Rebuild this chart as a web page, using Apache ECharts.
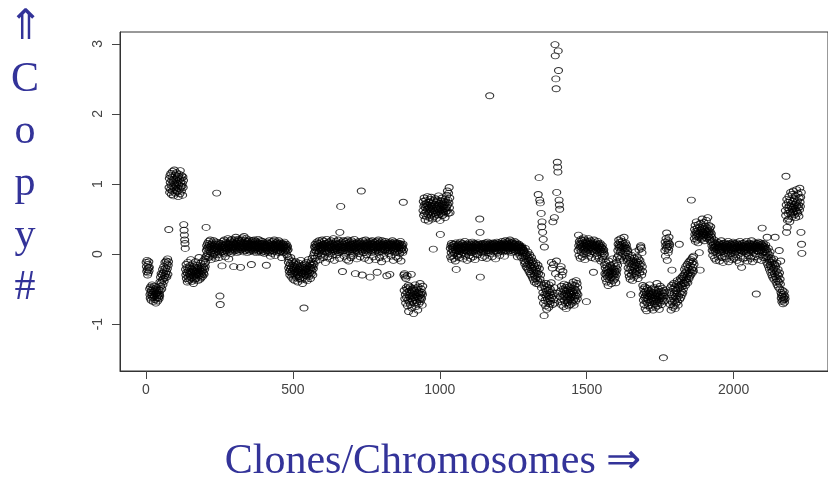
<!DOCTYPE html>
<html>
<head>
<meta charset="utf-8">
<script src="https://cdn.jsdelivr.net/npm/echarts@6/dist/echarts.min.js"></script>
<style>
  html, body { margin: 0; padding: 0; background: #ffffff; }
  #chart { width: 828px; height: 483px; }
</style>
</head>
<body>
<div id="chart"></div>
<script>
// Log copy-number ratio per clone, in clone order (clone 1 .. 2232),
// split into runs of similar level along the genome.
const seg01 = [-.12,-.18,-.25,-.09,-.22,-.3,-.15,-.27,-.2,-.11,-.24,-.19];
const seg02 = [-.5,-.58,-.63,-.47,-.55,-.66,-.52,-.6,-.44,-.57,
  -.62,-.49,-.68,-.54,-.59,-.46,-.61,-.53,-.65,-.5,
  -.57,-.7,-.48,-.56,-.63,-.52,-.6,-.67,-.55,-.58,
  -.62,-.51,-.64,-.57,-.6];
const seg03 = [-.4,-.52,-.33,-.46,-.28,-.41,-.5,-.3,-.37,-.22,
  -.44,-.27,-.35,-.18,-.39,-.24,-.31,-.12,-.34,-.2,
  -.28,-.1,-.25,-.33,-.14,-.21,-.07,-.29,-.16,-.11,.35];
const seg04 = [.95,1.08,.88,1.12,1.02,.92,1.15,.98,.85,1.05,
  1.1,.9,1.18,.96,1.03,.83,1.07,.94,1.2,1.0,
  .87,1.13,.97,1.06,.91,1.16,1.01,.89,1.09,.94,
  1.04,.82,1.11,.99,1.14,.93,1.06,.86,1.19,1.02,
  .96,1.08,.9,1.12,.97,1.01,.84,1.1,.95,1.05];
const seg05 = [.42,.34,.27,.2,.15,.08];
const seg06 = [-.22,-.3,-.15,-.35,-.26,-.19,-.4,-.28,-.12,-.33,
  -.24,-.38,-.2,-.29,-.17,-.36,-.25,-.31,-.08,-.27,
  -.34,-.21,-.39,-.26,-.14,-.3,-.23,-.42,-.18,-.32,
  -.25,-.37,-.2,-.28,-.11,-.35,-.24,-.3,-.16,-.27,
  -.33,-.22,-.38,-.19,-.29,-.26,-.05,-.31,-.21,-.36,
  -.24,-.28,-.13,-.34,-.2,-.3,-.25,-.17,-.32,-.23,
  -.1,-.27,-.19,-.29,-.14,-.22,-.07,-.18,-.12,-.04];
const seg07 = [.38,.05,.12,-.02,.08,.15,.01,.1,-.05,.18,
  .06,.13,-.04,.09,.2,.03,.11,-.08,.07,.14,
  .02,.16,.08,-.03,.12,.05,.19,.0,.1,.07,
  .13,-.06,.09,.04,.17,.11,.87,.06,.14,-.01,
  .1,.03,.16,.08,-.05,.12,.05,-.6,-.72,.09,
  .15,.02,.11,.07,-.17,.13,.04,.18,.09,.01,
  .12,.06,.2,.03,.1,-.04,.14,.08,.17,.05,
  .09,.15,.02,.11,.22,.07,.13,-.07,.1,.16,
  .04,.12,.19,.08,.14,.01,.1,.21,.06,.13,
  .09,.17,.03,.11,-.18,.15,.07,.2,.12,.05,
  .14,.24,.08,.16,.1,.02,.18,.12,.06,.21,
  .11,.15,.04,.19,.09,.13,.07,-.19,.16,.1,
  .2,.06,.14,.23,.09,.12,.17,.03,.11,.25,
  .08,.15,.1,.19,.05,.13,.22,.07,.16,.11,
  .02,.14,.18,.09,.12,.06,.2,.1,.15,.04,
  .13,.08,.17,.11,-.15,.07,.14,.19,.05,.12,
  .09,.16,.03,.12,.2,.08,.14,.06,.18,.1,
  .13,.02,.11,.17,.07,.15,.09,.21,.04,.12,
  .08,.16,.1,.05,.14,.19,.07,.11,.02,.15,
  .1,.06,.18,.12,.04,.13,.09,.16,.01,.11,
  .07,.14,.03,.12,.08,-.16,.1,.17,.05,.13,
  .09,.02,.15,.06,.11,.19,.04,.12,.08,-.03,
  .13,.07,.16,.1,.01,.14,.05,.18,.09,.12,
  .04,.11,.2,.07,.13,-.02,.1,.16,.06,.14,
  .08,.17,.03,.12,.09,.15,.05,.19,.1,.02,
  .13,.07,.11,.16,.04,.1,.14,-.05,.08,.12,
  .06,.15,.09,.02,.13,.1,.17,.05,.11,.08,
  .03,.12,.07,.14,-.01,.09,.05,.11,-.04,.06];
const seg08 = [-.12,-.2,-.08,-.25,-.17,-.3,-.14,-.22,-.05,-.27,
  -.19,-.33,-.1,-.24,-.29,-.16,-.36,-.21,-.13,-.28,
  -.23,-.18,-.38,-.26,-.11,-.31,-.2,-.34,-.15,-.25,
  -.29,-.17,-.4,-.22,-.27,-.13,-.32,-.24,-.19,-.35,
  -.21,-.3,-.09,-.26,-.37,-.18,-.28,-.23,-.42,-.16,
  -.27,-.2,-.33,-.77,-.24,-.14,-.3,-.19,-.36,-.22,
  -.26,-.12,-.31,-.21,-.38,-.17,-.25,-.29,-.08,-.23,
  -.32,-.18,-.27,-.14,-.22,-.35,-.2,-.11,-.28,-.16,
  -.24,-.06,-.19,-.3,-.13,-.21,-.02,-.15];
const seg09 = [.02,.1,-.06,.14,.05,.09,-.1,.12,.03,.17,
  .07,-.03,.11,.15,.01,.08,.19,.04,.12,-.08,
  .1,.06,.16,-.02,.09,.13,.05,.2,.0,.11,
  .07,.14,-.05,.1,.18,.03,.12,.08,-.12,.15,
  .05,.11,.21,.02,.09,.16,-.04,.13,.07,.1,
  .17,.04,.12,-.07,.08,.14,.01,.19,.06,.11,
  .09,-.02,.15,.1,.04,.22,.07,.13,-.09,.12,
  .06,.16,.03,.1,.18,.08,-.01,.14,.05,.11,
  .13,.07,.2,.02,.1,.15,-.06,.31,.09,.04,
  .68,.12,.06,.17,.1,.03,-.25,.14,.08,.19,
  .05,.11,-.03,.16,.09,.13,.02,.18,.07,.12,
  -.08,.1,.15,.04,.2,.08,.13,-.1,.11,.06,
  .17,.03,.12,.09,-.05,.14,.07,.19,.1,.01,
  .13,.06,.16,-.02,.11,.08,.21,.04,.12,.15,
  -.28,.09,.05,.14,.1,-.07,.17,.03,.12,.08,
  .15,.01,.11,.18,.06,.13,-.04,.1,.16,.07,
  .9,.12,.04,-.3,.14,.09,.19,.02,.11,.07,
  .16,-.06,.1,.13,.05,.2,.08,.12,-.01,.15,
  .06,.11,.17,.03,.09,.14,-.09,.12,.07,.18,
  -.33,.1,.05,.15,.08,.13,.02,.19,.11,.06,
  .14,-.04,.1,.17,.07,.12,.03,.16,.09,-.08,
  .12,.05,.18,.1,-.26,.14,.06,.11,.2,.02,
  .09,.15,-.05,.12,.07,.17,.04,.1,.13,-.11,
  .08,.19,.03,.14,.1,.06,.16,-.02,.11,.13,
  .05,.12,.18,.07,-.07,.15,.09,-.31,.13,.04,
  .1,.16,.06,.12,.01,.14,.08,-.29,.17,.05,
  .11,-.03,.15,.09,.13,.04,.19,.07,.12,-.09,
  .14,.06,.1,.17,.02,.12,.08,.15,-.04,.11,
  .07,.13,.03,.16,.1,-.06,.14,.05,.12,.09,
  .15,.01,.11,.18,.06,-.1,.13,.08,.04,.12,
  .09,.02,.14,.74,.06];
const seg10 = [-.3,-.52,-.28,-.64,-.33,-.58,-.7,-.35,-.48,-.62,
  -.55,-.31,-.74,-.5,-.66,-.45,-.82,-.59,-.53,-.68,
  -.61,-.47,-.72,-.56,-.64,-.29,-.51,-.77,-.6,-.54,
  -.67,-.49,-.63,-.85,-.57,-.7,-.52,-.62,-.44,-.66,
  -.58,-.75,-.6,-.5,-.69,-.55,-.63,-.8,-.47,-.61,
  -.56,-.71,-.53,-.65,-.59,-.42,-.68,-.57,-.62,-.5,
  -.64,-.55,-.73,-.58,-.46];
const seg11 = [.62,.75,.55,.68,.8,.58,.71,.49,.66,.77,
  .6,.72,.53,.69,.64,.82,.57,.7,.47,.66,
  .74,.59,.67,.52,.78,.63,.7,.56,.81,.61,
  .68,.5,.73,.65,.58,.07,.76,.62,.69,.54,
  .71,.6,.79,.57,.66,.74,.51,.68,.63,.77,
  .59,.7,.65,.83,.56,.72,.61,.67,.48,.28,
  .64,.76,.58,.7,.62,.8,.55,.73,.66,.6,
  .69,.57,.75,.63,.71,.52,.78,.65,.6,.74,
  .67,.84,.62,.9,.7,.77,.58,.87,.73,.95,
  .66,.8,.59];
const seg12 = [.08,-.04,.12,.02,.15,-.08,.06,.1,-.02,.13,
  .04,.09,-.06,.14,.01,.11,.07,-.1,.05,.16,
  -.22,.03,.1,.06,-.03,.12,.08,.0,.14,.05,
  .09,-.05,.11,.04,.17,.07,-.01,.13,.06,.1,
  .02,.15,.08,-.07,.11,.05,.13,.01,.09,.18,
  .06,.12,-.03,.1,.04,.14,.07,-.09,.11,.03,
  .13,.08,.05,.16,-.02,.09,.12,.04,.1,-.06,
  .07,.14,.02,.11,.08,.17,.05,-.04,.12,.09,
  .03,.1,.15,.06,-.08,.13,.07,.11,.01,.14,
  .09,.05,.12,-.01,.16,.08,.04,.13,.1,.06,
  .5,.31,-.33,.11,.07,.14,.02,.1,.08,-.05,
  .12,.06,.15,.03,.09,.13,-.03,.11,.07,.16,
  .04,.1,.14,.08,-.06,.12,.05,.17,.09,.02,
  .13,.07,.11,.05,2.26,.15,.08,.01,.12,.1,
  .06,.14,-.04,.09,.13,.07,.16,.03,.11,.08,
  .15,.05,.1,.12,-.07,.08,.14,.04,.17,.09,
  .11,.02,.13,.07,.1,.16,.05,.12,-.02,.14,
  .08,.12,.04,.15,.1,.06,.18,.09,.13,.03,
  .11,.16,.07,.12,-.03,.14,.09,.19,.06,.1,
  .13,.05,.17,.1,.08,.15,.03,.12,.18,.07,
  .14,.09,.11,.2,.05,.13,.08,.16,.1,.02,
  .12,.17,.07,.1,.15,.04,.13,.09,.18,.06,
  .11,.14,.03,.12,.08,.16,.05,.1,-.04,.13,
  .07,.11,.02,.14,.09,.05,.12,-.02,.08,.1,
  .04,.09,-.05,.11,.06,.01,.08,-.03,.05,.02];
const seg13 = [.05,-.1,.02,-.14,-.04,.08,-.12,-.02,-.18,.0,
  -.08,-.2,-.03,-.15,.03,-.22,-.1,-.06,-.25,-.13,
  -.01,-.19,-.28,-.09,-.16,-.3,-.05,-.23,-.12,-.33,
  -.2,-.1,-.36,-.24,-.15,-.29,-.4,-.18,-.31,-.22,
  -.35,-.13,-.27,-.42,-.2,-.32,-.25,-.38,-.16,.85,
  -.28,-.43,1.09,-.21,.77,-.36,.73,-.3,-.41,.58];
const seg14 = [-.48,.39,.46,-.62,.31,-.55,.21,-.7,-.45,-.88,
  .1,-.58,-.66,-.5,-.74,-.42,-.6,-.53,-.79,-.57,
  -.64,-.47,-.69,-.52,-.6,-.76,-.44,-.63,-.55,-.71,
  -.5,-.67,-.58,-.41,-.12,-.62,-.54,-.2,-.72,.46,
  -.59,-.15,-.65,-.48,.52,-.7,2.99,2.83,-.28,2.5,
  2.36,-.1,.88,-.56,1.31,1.24,1.17,2.9,2.62,-.33,
  .77,.7,.64,-.61,-.22,-.53,-.68,-.18,-.46,-.73,
  -.3,-.57,-.64,-.25,-.5,-.75,-.59,-.43,-.66,-.52,
  -.61,-.7,-.48,-.56,-.78,-.53,-.63,-.45,-.69,-.58,
  -.51,-.66,-.6,-.74,-.47,-.57,-.65,-.52,-.72,-.55,
  -.62,-.49,-.68,-.58,-.44,-.7,-.54,-.61,-.4,-.66,
  -.56,-.73,-.5,-.63,-.45,-.59,-.67,-.52,-.38,-.6,
  -.55,-.42,-.64,-.48,-.58];
const seg15 = [.05,.27,.12,-.02,.18,.08,.15,-.06,.1,.21,
  .03,.14,.09,.19,-.04,.11,.16,.06,.23,.0,
  .13,.07,.2,-.08,.1,.17,.04,.12,-.68,.15,
  .09,.02,.18,.11,.06,.22,-.03,.14,.08,.16,
  .01,.12,.19,.07,.1,-.05,.15,.04,.13,.09,
  .17,.06,-.26,.11,.2,.03,.14,.08,-.07,.12,
  .1,.16,.05,.13,-.02,.09,.18,.04,.11,.07,
  .14,-.06,.08,.12,.02,.15,.06,-.1,.1,.04,
  .09,.01,.12,-.04,.07,-.08,.03,.06,-.02,.0];
const seg16 = [-.15,-.28,-.2,-.35,-.12,-.3,-.24,-.4,-.18,-.27,
  -.33,-.22,-.45,-.26,-.1,-.31,-.19,-.37,-.25,-.29,
  -.16,-.34,-.23,-.42,-.28,-.2,-.32,-.07,-.26,-.38,
  -.21,-.3,-.14,-.36,-.24,-.27,-.33,-.18,-.41,-.25,
  -.29,-.12,-.22,-.05,-.16];
const seg17 = [.05,.14,-.02,.2,.09,.12,-.07,.17,.03,.1,
  .22,.06,.13,-.04,.11,.18,.01,.08,.15,-.09,
  .1,.24,.04,.12,.07,-.03,.16,.09,.02,.13,
  -.06,.08,-.1,.05,.0];
const seg18 = [-.2,-.08,-.27,-.14,-.32,-.05,-.22,-.36,-.11,-.58,
  -.18,-.3,-.02,-.24,-.15,-.38,-.09,-.26,-.19,-.12,
  -.33,-.06,-.21,-.16,-.28,.03,-.13,-.25,-.1,-.3,
  -.17,-.04,-.23,-.12,-.35,-.07,-.2,.06,-.15,-.27,
  -.09,-.22,.1,.12,-.14,.08,-.3,.02,-.18,-.25];
const seg19 = [-.45,-.58,-.66,-.5,-.72,-.55,-.62,-.47,-.78,-.6,
  -.53,-.68,-.57,-.81,-.63,-.49,-.7,-.59,-.65,-.52,
  -.74,-.56,-.61,-.44,-.69,-.58,-.77,-.54,-.64,-.6,
  -.67,-.5,-.73,-.57,-.62,-.8,-.55,-.66,-.48,-.71,
  -.59,-.63,-.52,-.76,-.6,-.68,-.56,-.65,-.42,-.7,
  -.57,-.74,-.61,-.5,-.67,-.54,-.79,-.6,-.64,-.46,
  -.69,-.58,-.62,-.53,-.72,-.6,-.66,-.49,-.63,-.56,
  -1.48,-.6,-.52,-.67,-.55];
const seg20 = [.05,.17,-.03,.12,.22,.08,.3,.14,-.09,.1,.19,.02,.16,.06,.24,.11,.14];
const seg21 = [-.55,-.72,-.48,-.66,-.8,-.58,-.45,-.23,-.69,-.6,
  -.76,-.5,-.63,-.42,-.74,-.56,-.67,-.47,-.78,-.61,
  -.52,-.7,-.44,-.64,-.57,-.38,-.68,-.5,-.73,-.46,
  -.6,-.4,.14,-.65,-.48,-.56,-.35,-.62,-.44,-.53,
  -.37,-.58,-.46,-.32,-.55,-.41,-.5,-.34];
const seg22 = [-.3,-.42,-.22,-.38,-.27,-.45,-.18,-.33,-.4,-.24,
  -.36,-.15,-.3,-.41,-.2,-.28,-.12,-.35,-.23,-.32,
  -.1,-.26,-.17,-.3,-.08,.77,-.22,-.13,-.27,-.05,
  -.19,-.11,-.24,-.03,-.15];
const seg23 = [.22,.35,.28,.41,.18,.32,.25,.46,.3,.2,
  .37,.27,.33,.16,.42,.29,.24,.02,.38,.31,
  -.23,.26,.44,.34,.21,.36,.28,.5,.32,.23,
  .39,.3,.26,.45,.19,.35,.29,.4,.24,.33,
  .27,.48,.31,.22,.37,.28,.52,.34,.25,.3,
  .41,.23,.36,.2,.32,.27,.39,.17,.29,.24];
const seg24 = [.12,.05,.18,-.02,.09,.14,.03,.2,.08,-.06,
  .1,.15,.04,.11,-.09,.07,.13,.01,.17,.06,
  .09,-.04,.12,.16,.05,.1,-.1,.08,.14,.02,
  .11,.06,.19,.03,-.05,.13,.07,.1,-.12,.15,
  .04,.09,.12,-.03,.16,.06,.11,.0,.08,.14,
  -.07,.1,.05,.13,.02,.18,.07,-.11,.12,.04,
  .09,.15,-.02,.11,.06,.13,.01,.08,-.08,.14,
  .05,.1,.17,.03,-.06,.12,.07,.15,.0,.09,
  .13,-.04,.08,.11,.04,.16,-.09,.1,.06,.14,
  .02,.12,.07,-.13,.1,.18,.05,.09,-.03,.13,
  .06,-.19,.11,.04,.15,.08,-.07,.12,.03,.1,
  .16,.05,.09,-.05,.13,.07,.11,.01,.18,.06,
  .1,-.1,.14,.08,.03,.12,-.02,.09,.15,.05,
  .11,.07,-.06,.13,.04,.19,.08,.1,-.11,.12,
  .06,.14,.02,.09,.16,-.04,.11,.07,.13,.0,
  .08,-.57,.12,.05,.15,-.08,.1,.04,.17,.09,
  .03,.13,.07,-.03,.11,.16,.05,.1,-.09,.14,
  .06,.37,.09,.12,.02,.15,-.05,.08,.11,.04,
  .1,-.02,.07,.13,.01];
const seg25 = [-.05,.06,-.12,.24,.02,-.15,-.04,.08,-.18,-.08,
  -.01,-.22,-.11,.03,-.16,-.26,-.06,-.19,-.12,-.3,
  -.09,-.24,-.33,-.14,-.21,-.07,-.36,-.2,-.28,-.15,
  .24,-.32,-.18,-.4,-.25,-.35,-.13,-.44,-.29,-.38,
  -.22,-.47,-.31,-.4,.05,-.27,-.5,-.36,-.43,-.1];
const seg26 = [-.55,-.63,-.58,-.68,-.6,-.52,-.66,-.71,-.57,-.62,-.65,-.54,-.69,-.6,-.64];
const seg27 = [.62,.55,1.11,.7,.31,.78,.38,.48,.66,.58,
  .74,.5,.82,.63,.69,.46,.77,.6,.88,.57,
  .68,.72,.53,.85,.64,.75,.59,.9,.67,.61,
  .79,.56,.71,.65,.83,.52,.73,.62,.92,.69,
  .6,.76,.58,.86,.66,.7,.54,.8,.63,.94,
  .74,.68,.81,.31,.88,.14,.01];

const xTickValues = [0, 500, 1000, 1500, 2000];
const yTickValues = [-1, 0, 1, 2, 3];
const yAxisTitle = '⇑\nC\no\np\ny\n#';
const xAxisTitle = 'Clones/Chromosomes ⇒';

const cloneValues = [seg01, seg02, seg03, seg04, seg05, seg06, seg07, seg08, seg09,
  seg10, seg11, seg12, seg13, seg14, seg15, seg16, seg17, seg18, seg19, seg20,
  seg21, seg22, seg23, seg24, seg25, seg26, seg27].flat();
// x = clone number (1-based), y = copy-number value
const points = cloneValues.map((v, i) => [i + 1, v]);

const chart = echarts.init(document.getElementById('chart'), null, { renderer: 'canvas' });

const tickFont = { fontFamily: 'Liberation Sans', fontSize: 14, color: '#444' };
const titleColor = '#333399';
const plainNumber = v => String(v);

chart.setOption({
  animation: false,
  backgroundColor: '#ffffff',
  grid: {
    left: 120, top: 32, width: 717, height: 339,
    show: true, borderColor: '#333', borderWidth: 1, backgroundColor: '#ffffff'
  },
  xAxis: {
    type: 'value', min: -88, max: 2321,
    axisLine: { show: true, onZero: false, lineStyle: { color: '#333', width: 1 } },
    axisTick: { show: true, length: 8, customValues: xTickValues, lineStyle: { color: '#444' } },
    axisLabel: Object.assign({ customValues: xTickValues, margin: 12, formatter: plainNumber }, tickFont),
    splitLine: { show: false }
  },
  yAxis: {
    type: 'value', min: -1.67, max: 3.17,
    axisLine: { show: true, onZero: false, lineStyle: { color: '#333', width: 1 } },
    axisTick: { show: true, length: 8, customValues: yTickValues, lineStyle: { color: '#444' } },
    axisLabel: Object.assign({ customValues: yTickValues, rotate: 90, margin: 15, formatter: plainNumber }, tickFont),
    splitLine: { show: false }
  },
  series: [{
    type: 'scatter',
    data: points,
    // open ellipse markers, unfilled so overlapping clones build up dark clusters
    symbol: 'path://M0 5A5 5 0 1 1 10 5A5 5 0 1 1 0 5Z',
    symbolSize: [8, 6],
    itemStyle: { color: 'rgba(0,0,0,0)', borderColor: '#000', borderWidth: 1 },
    silent: true,
    progressive: 0,
    emphasis: { disabled: true }
  }],
  graphic: [
    {
      type: 'text', x: 25, y: 2,
      style: {
        text: yAxisTitle, font: '42px "Liberation Serif"', fill: titleColor,
        align: 'center', verticalAlign: 'top', lineHeight: 52
      }
    },
    {
      type: 'text', x: 433, y: 462,
      style: {
        text: xAxisTitle, font: '42px "Liberation Serif"', fill: titleColor,
        align: 'center', verticalAlign: 'middle'
      }
    }
  ]
});
</script>
</body>
</html>
